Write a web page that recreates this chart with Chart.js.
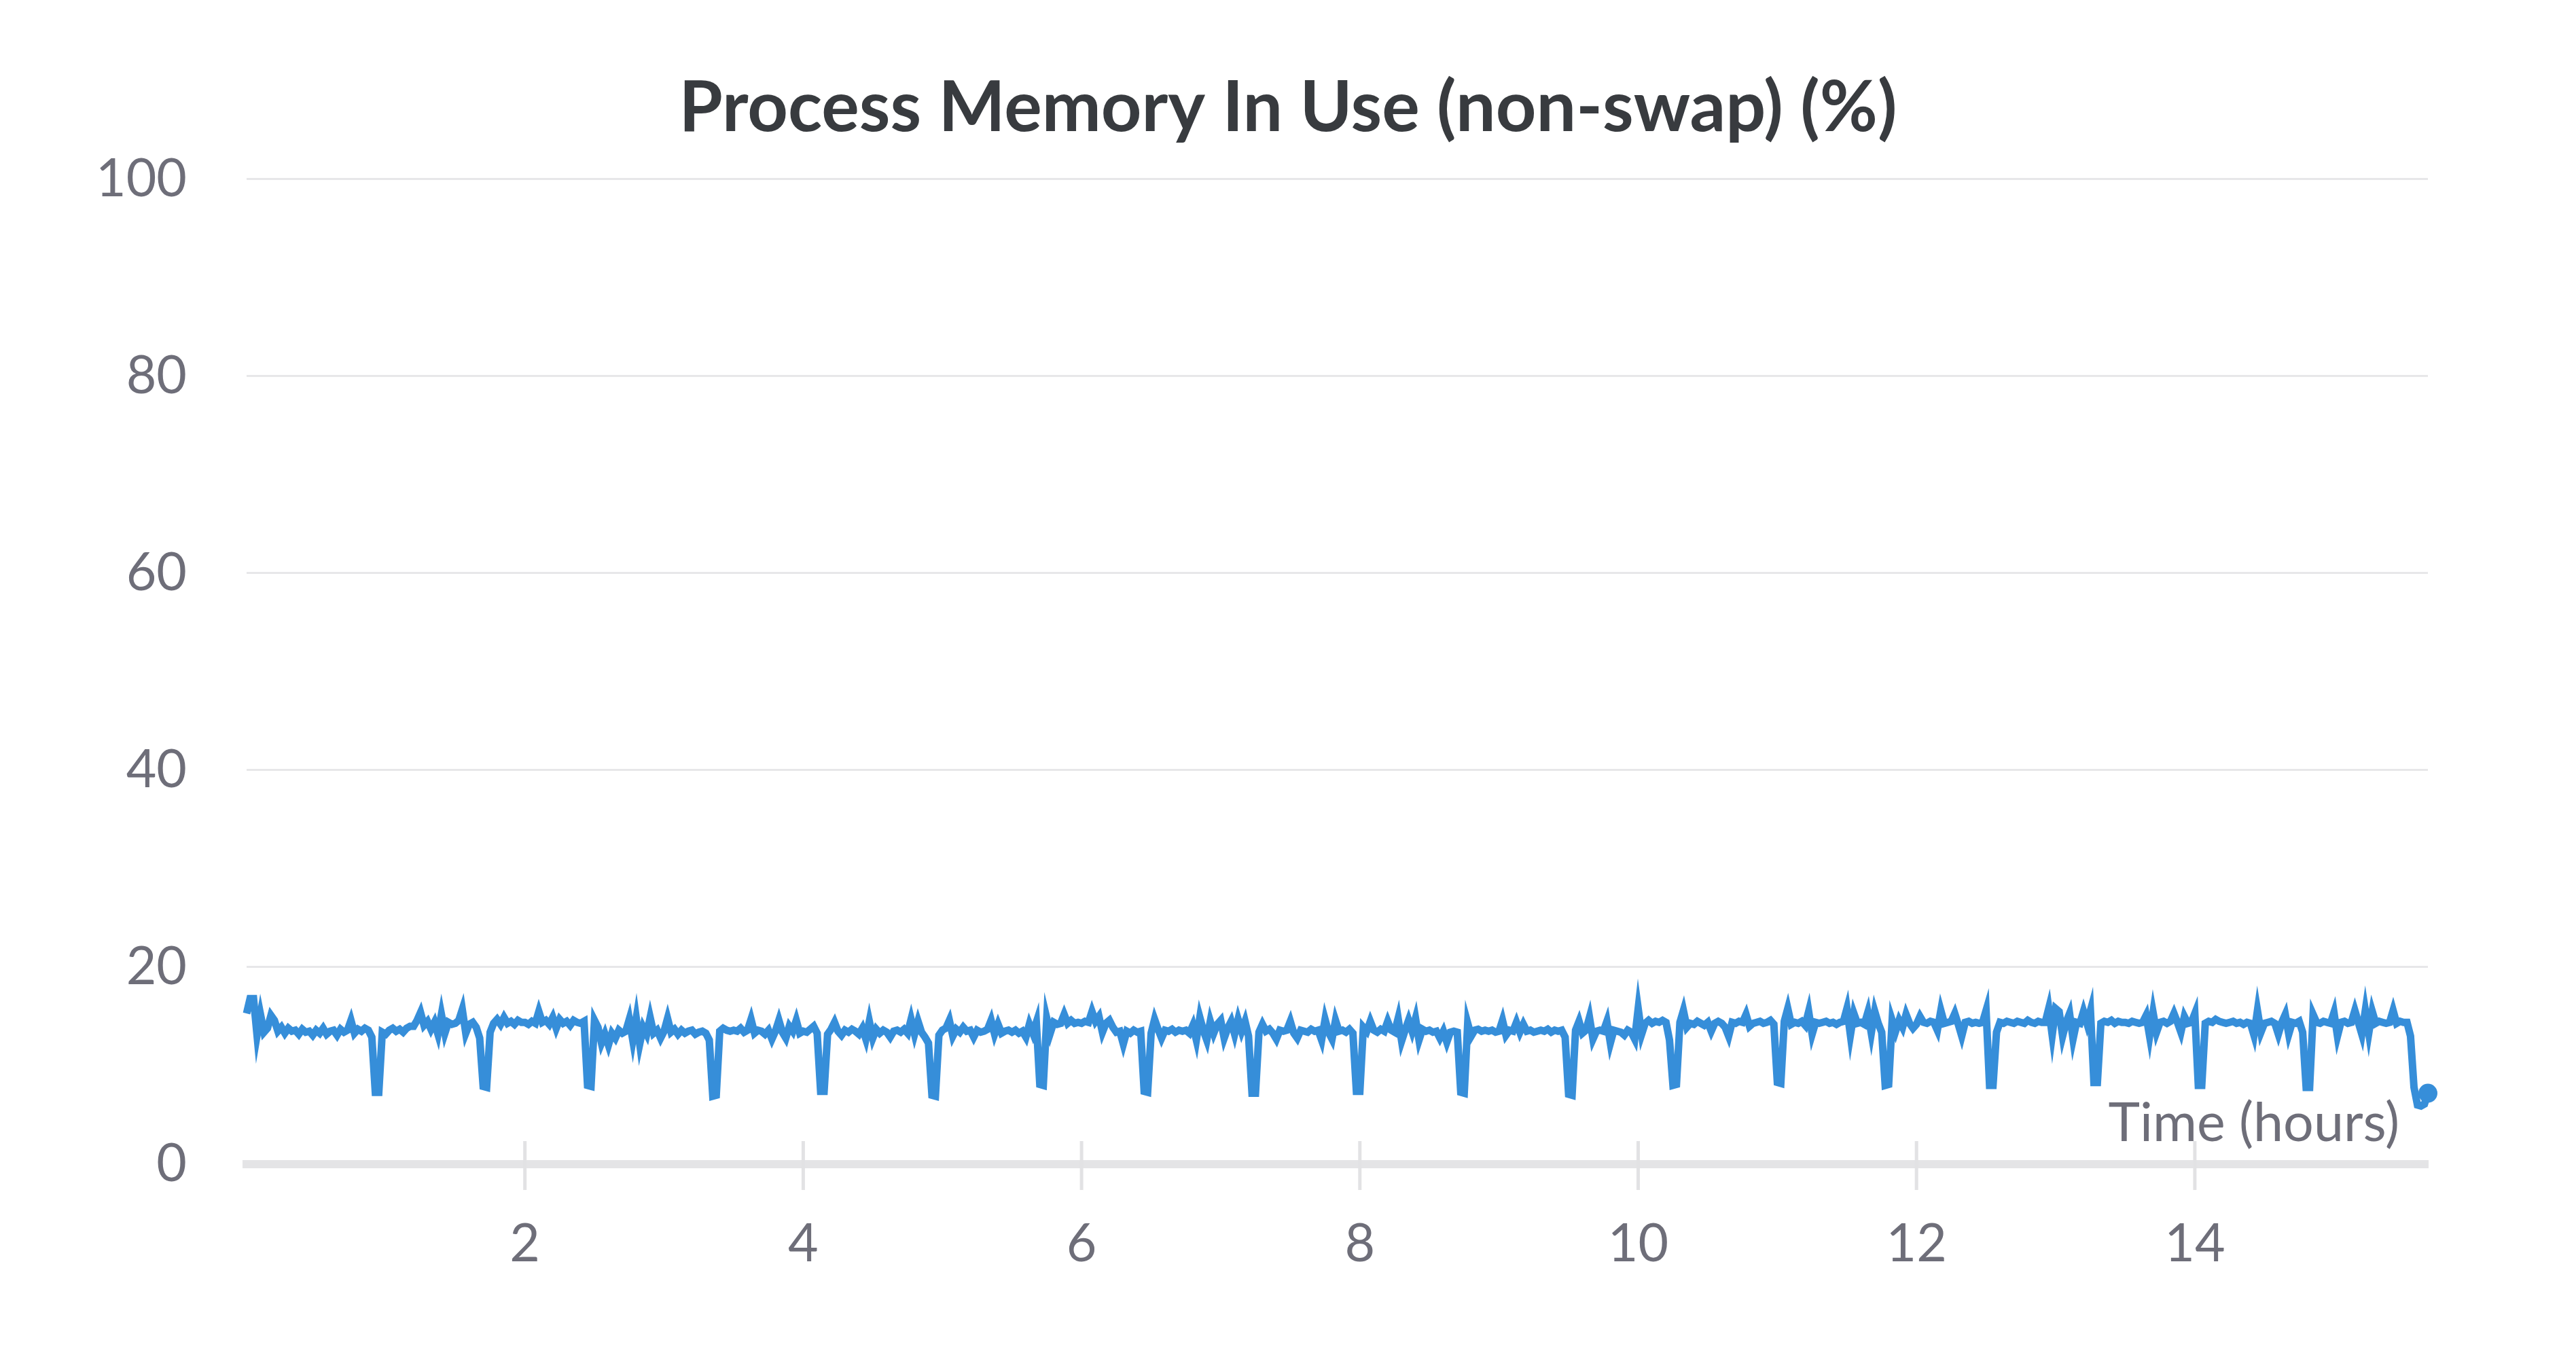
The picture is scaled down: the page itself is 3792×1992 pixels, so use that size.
<!DOCTYPE html>
<html>
<head>
<meta charset="utf-8">
<title>Process Memory In Use (non-swap) (%)</title>
<script src="https://cdn.jsdelivr.net/npm/chart.js@4/dist/chart.umd.min.js"></script>
<style>
  html, body { margin: 0; padding: 0; background: #ffffff; }
  #wrap { width: 3792px; height: 1992px; }
</style>
</head>
<body>
<div id="wrap"><canvas id="chart" width="3792" height="1992"></canvas></div>
<script>
// ---------------- data ----------------
const TITLE = 'Process Memory In Use (non-swap) (%)';
const X_AXIS_LABEL = 'Time (hours)';
const X_MIN_HOURS = 0;
const X_MAX_HOURS = 15.675;
const SAMPLE_START_HOURS = 0;
const SAMPLE_INTERVAL_HOURS = 0.025;
const X_TICKS = [2, 4, 6, 8, 10, 12, 14];
const Y_TICKS = [0, 20, 40, 60, 80, 100];

// memory in use (%), one reading per sample interval
const MEMORY_PCT = [
  15.3, 16.8, 16.8, 13.1, 15.2, 13.4, 13.8, 15.1, 14.6, 13.5, 13.9, 13.3, 13.8, 13.5, 13.6, 13.2, 13.7, 13.4, 13.5, 13.1,
  13.6, 13.3, 13.8, 13.2, 13.5, 13.6, 13.1, 13.7, 13.4, 13.6, 14.6, 13.3, 13.7, 13.5, 13.8, 13.6, 12.9, 7.3, 7.3, 13.4,
  13.2, 13.6, 13.8, 13.5, 13.7, 13.4, 13.8, 14.0, 14.0, 14.6, 15.4, 14.1, 14.5, 13.7, 14.4, 13.2, 15.2, 13.3, 14.4, 14.2,
  14.3, 14.6, 15.7, 13.3, 14.2, 14.4, 13.9, 12.8, 7.9, 7.8, 13.4, 14.3, 14.7, 14.2, 14.9, 14.3, 14.5, 14.2, 14.6, 14.4,
  14.4, 14.2, 14.5, 14.3, 15.5, 14.4, 14.6, 14.2, 14.9, 13.8, 14.7, 14.3, 14.5, 14.1, 14.6, 14.4, 14.3, 14.5, 8.0, 7.9,
  14.6, 13.9, 12.3, 13.2, 12.1, 13.3, 12.8, 13.6, 13.3, 13.5, 14.7, 12.6, 14.8, 12.2, 13.9, 13.2, 14.9, 13.3, 13.6, 12.8,
  13.5, 14.8, 13.4, 13.7, 13.2, 13.6, 13.3, 13.5, 13.6, 13.2, 13.4, 13.5, 13.3, 12.6, 6.9, 7.0, 13.5, 13.8, 13.6, 13.5,
  13.6, 13.5, 13.8, 13.4, 13.6, 14.7, 13.3, 13.6, 13.5, 13.2, 13.6, 12.7, 13.5, 14.6, 13.4, 12.8, 14.0, 13.5, 14.6, 13.3,
  13.5, 13.4, 13.7, 14.0, 13.3, 7.4, 7.4, 13.2, 13.7, 14.4, 13.5, 13.1, 13.6, 13.4, 13.7, 13.5, 13.2, 13.8, 12.7, 14.5,
  12.8, 13.7, 13.3, 13.6, 13.4, 12.9, 13.5, 13.6, 13.4, 13.7, 13.3, 14.7, 13.2, 14.5, 13.4, 12.9, 12.3, 7.0, 6.9, 13.1,
  13.6, 13.8, 14.6, 13.0, 13.7, 13.4, 13.9, 13.5, 13.6, 12.9, 13.6, 13.4, 13.5, 13.7, 14.6, 13.2, 14.2, 13.3, 13.5, 13.6,
  13.4, 13.6, 13.3, 13.5, 12.9, 14.2, 13.3, 14.4, 8.1, 8.0, 14.8, 13.3, 14.4, 14.2, 14.3, 15.2, 14.3, 14.6, 14.3, 14.4,
  14.3, 14.5, 14.4, 15.5, 14.5, 15.0, 13.4, 14.3, 14.6, 13.9, 13.4, 13.5, 12.2, 13.5, 13.3, 13.6, 13.4, 13.5, 7.4, 7.3,
  13.3, 14.7, 13.7, 12.8, 13.6, 13.5, 13.7, 13.4, 13.6, 13.5, 13.6, 13.3, 14.1, 12.6, 14.9, 13.6, 12.6, 14.5, 13.3, 14.2,
  14.6, 12.8, 13.8, 14.5, 13.2, 14.7, 13.5, 14.5, 13.0, 7.2, 7.2, 13.4, 14.2, 13.5, 13.7, 13.3, 12.7, 13.6, 13.5, 13.6,
  14.5, 13.3, 12.8, 13.6, 13.5, 13.4, 13.7, 13.5, 13.6, 12.6, 14.7, 13.4, 12.7, 14.6, 13.5, 13.6, 13.4, 13.7, 13.3, 7.4,
  7.4, 13.9, 13.5, 14.5, 13.6, 13.4, 13.7, 13.5, 14.5, 13.6, 13.4, 14.8, 12.5, 13.6, 14.6, 13.5, 14.8, 12.6, 13.7, 13.5,
  13.6, 13.4, 13.5, 12.8, 13.5, 12.4, 13.4, 13.5, 13.4, 7.3, 7.2, 14.3, 13.0, 13.6, 13.7, 13.5, 13.6, 13.5, 13.6, 13.4,
  13.5, 14.6, 13.1, 13.6, 13.5, 14.4, 13.4, 14.2, 13.5, 13.6, 13.4, 13.5, 13.6, 13.5, 13.7, 13.4, 13.6, 13.5, 13.6, 12.9,
  7.1, 7.0, 13.6, 14.5, 13.3, 13.6, 14.9, 12.7, 13.5, 13.6, 13.5, 14.5, 12.3, 13.6, 13.5, 13.4, 13.1, 13.6, 13.4, 12.7,
  15.8, 13.2, 14.3, 14.6, 14.3, 14.5, 14.4, 14.6, 14.4, 12.6, 8.0, 8.1, 14.4, 15.6, 13.9, 14.3, 14.2, 14.5, 14.3, 14.1,
  14.4, 13.5, 14.3, 14.5, 14.3, 13.9, 13.0, 14.4, 14.3, 14.5, 14.4, 15.2, 14.0, 14.3, 14.4, 14.5, 14.3, 14.4, 14.6, 14.2,
  8.3, 8.2, 14.5, 15.8, 14.2, 14.4, 14.3, 14.5, 14.1, 15.5, 13.2, 14.4, 14.3, 14.4, 14.5, 14.3, 14.4, 14.2, 14.4, 14.5,
  15.8, 13.1, 15.3, 14.3, 14.4, 14.2, 15.4, 13.3, 15.5, 14.3, 13.4, 8.0, 8.1, 14.6, 13.5, 14.6, 13.9, 15.2, 14.3, 13.8,
  14.2, 15.0, 14.4, 14.3, 14.5, 14.4, 13.6, 15.6, 14.3, 14.4, 14.5, 15.3, 14.2, 13.0, 14.4, 14.5, 14.3, 14.4, 14.3, 14.4,
  15.6, 8.0, 8.0, 13.4, 14.4, 14.3, 14.5, 14.4, 14.3, 14.5, 14.4, 14.3, 14.6, 14.4, 14.3, 14.5, 14.4, 14.4, 15.8, 13.1,
  15.8, 15.5, 13.0, 14.4, 15.3, 12.7, 14.4, 14.3, 15.5, 14.3, 15.6, 8.3, 8.3, 14.3, 14.5, 14.4, 14.6, 14.3, 14.5, 14.4,
  14.4, 14.3, 14.5, 14.4, 14.3, 14.4, 15.1, 13.0, 15.4, 13.4, 14.4, 14.5, 14.3, 14.5, 15.3, 14.4, 13.4, 15.0, 14.3, 14.4,
  15.3, 8.0, 8.0, 14.3, 14.5, 14.4, 14.7, 14.5, 14.4, 14.3, 14.4, 14.5, 14.3, 14.4, 14.2, 14.4, 14.3, 13.1, 15.6, 13.4,
  14.3, 14.4, 14.5, 14.3, 13.2, 14.4, 15.2, 13.2, 14.4, 14.3, 14.5, 13.4, 7.8, 7.8, 15.2, 14.4, 14.3, 14.5, 14.4, 14.3,
  15.4, 13.0, 14.4, 14.5, 14.3, 14.4, 15.6, 14.4, 13.2, 15.6, 13.3, 15.5, 14.3, 14.5, 14.4, 14.3, 14.4, 15.6, 14.3, 14.5,
  14.4, 14.4, 13.0, 7.8, 6.0, 5.9, 6.1, 7.2
];

// ---------------- styling ----------------
const LINE_COLOR = '#368ed9';
const TICK_COLOR = '#6e6e79';
const TITLE_COLOR = '#383b3f';
const GRID_COLOR = '#e7e7e9';
const AXIS_COLOR = '#e4e4e6';
const FONT_FAMILY = 'Lato, "Open Sans", "Noto Sans", sans-serif';

const points = MEMORY_PCT.map((v, i) => ({ x: SAMPLE_START_HOURS + i * SAMPLE_INTERVAL_HOURS, y: v }));
const LAST = points.length - 1;

const decorations = {
  id: 'decorations',
  beforeDatasetsDraw(chart) {
    const { ctx, chartArea, scales } = chart;
    const xs = scales.x;
    ctx.save();
    ctx.strokeStyle = '#e2e2e4';
    ctx.lineWidth = 5;
    X_TICKS.forEach(v => {
      const px = xs.getPixelForValue(v);
      ctx.beginPath();
      ctx.moveTo(px, chartArea.bottom - 34);
      ctx.lineTo(px, chartArea.bottom + 38);
      ctx.stroke();
    });
    ctx.fillStyle = TICK_COLOR;
    ctx.font = '79px ' + FONT_FAMILY;
    ctx.textAlign = 'right';
    ctx.textBaseline = 'alphabetic';
    ctx.fillText(X_AXIS_LABEL, chartArea.right - 42, chartArea.bottom - 34);
    ctx.restore();
  }
};

new Chart(document.getElementById('chart').getContext('2d'), {
  type: 'line',
  data: {
    datasets: [{
      label: TITLE,
      data: points,
      borderColor: LINE_COLOR,
      backgroundColor: LINE_COLOR,
      borderWidth: 11,
      tension: 0,
      fill: false,
      clip: false,
      pointRadius: c => (c.dataIndex === LAST ? 14 : 0),
      pointBorderWidth: 0,
      pointHoverRadius: 0,
      pointBackgroundColor: LINE_COLOR
    }]
  },
  options: {
    responsive: false,
    animation: false,
    devicePixelRatio: 1,
    layout: { padding: { left: 0, right: 0, top: 0, bottom: 0 } },
    plugins: {
      legend: { display: false },
      tooltip: { enabled: false },
      title: {
        display: true,
        text: TITLE,
        color: TITLE_COLOR,
        font: { family: FONT_FAMILY, size: 104, weight: 'bold', lineHeight: 1.2 },
        padding: { top: 97, bottom: 42 }
      }
    },
    scales: {
      x: {
        type: 'linear',
        min: X_MIN_HOURS,
        max: X_MAX_HOURS,
        afterBuildTicks: s => { s.ticks = X_TICKS.map(v => ({ value: v })); },
        afterFit: s => { s.height = 278; },
        grid: { display: false, drawTicks: false },
        border: { display: true, color: AXIS_COLOR, width: 12 },
        ticks: {
          padding: 72, color: TICK_COLOR, autoSkip: false, maxRotation: 0,
          font: { family: FONT_FAMILY, size: 77 }
        }
      },
      y: {
        min: 0,
        max: 100,
        afterBuildTicks: s => { s.ticks = Y_TICKS.map(v => ({ value: v })); },
        afterFit: s => { s.width = 363; },
        grid: { color: GRID_COLOR, lineWidth: 3, drawTicks: false },
        border: { display: false },
        ticks: {
          padding: 88, color: TICK_COLOR,
          font: { family: FONT_FAMILY, size: 77 }
        }
      },
      yRightMargin: {
        position: 'right',
        display: true,
        min: 0,
        max: 100,
        afterFit: s => { s.width = 218; },
        grid: { display: false, drawTicks: false },
        border: { display: false },
        ticks: { display: false }
      }
    }
  },
  plugins: [decorations]
});
</script>
</body>
</html>
